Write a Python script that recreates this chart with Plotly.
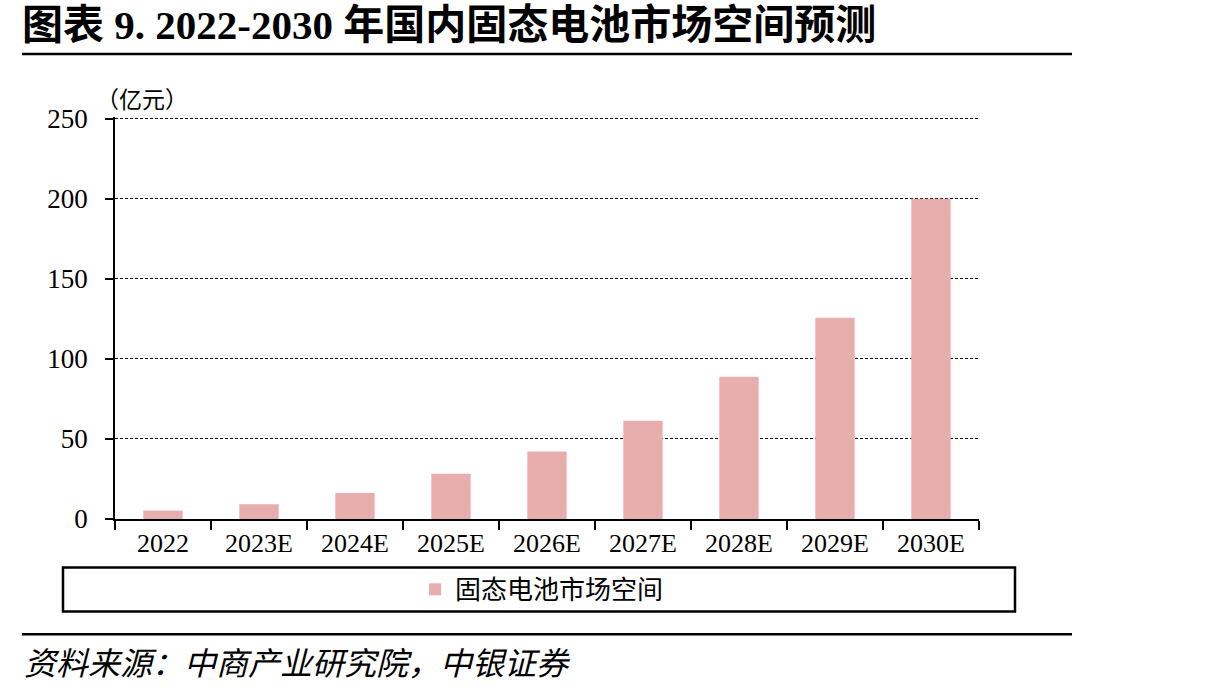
import plotly.graph_objects as go

categories = ["2022", "2023E", "2024E", "2025E", "2026E", "2027E", "2028E", "2029E", "2030E"]
market_size = [5.3, 9.2, 16.3, 28.3, 42.2, 61.4, 88.8, 125.7, 200.0]
series_name = "固态电池市场空间"
y_ticks = [0, 50, 100, 150, 200, 250]
title_text = "图表 9. 2022-2030 年国内固态电池市场空间预测"
unit_text = "（亿元）"
source_text = "资料来源：中商产业研究院，中银证券"

W, H = 1211, 694
L, R, T, B = 115, 979, 117, 519.5
pw, ph = R - L, B - T


def px(x):
    return (x - L) / pw


def py(y):
    return (B - y) / ph


serif = "Liberation Serif, Times New Roman, Noto Sans CJK SC, serif"
cjk = "Noto Sans CJK SC, sans-serif"

fig = go.Figure()
fig.add_trace(go.Bar(
    x=categories, y=market_size, name=series_name,
    marker=dict(color="#E8AEAD", line=dict(width=0)),
    showlegend=True,
))

fig.update_layout(
    width=W, height=H,
    margin=dict(l=L, r=W - R, t=T, b=H - B, pad=0),
    paper_bgcolor="white", plot_bgcolor="white",
    bargap=0.59,
    showlegend=True,
    legend=dict(
        x=px(542), y=py(590), xanchor="center", yanchor="middle",
        orientation="h", font=dict(family=cjk, size=26, color="black"),
        bgcolor="rgba(0,0,0,0)", borderwidth=0, itemwidth=30,
    ),
    xaxis=dict(
        type="category", range=[-0.5, 8.5],
        showline=True, linecolor="black", linewidth=1.5,
        ticks="outside", tickson="boundaries", ticklen=9, tickcolor="black", tickwidth=1.5,
        tickfont=dict(family=serif, size=26, color="black"),
        showgrid=False, zeroline=False, fixedrange=True,
    ),
    yaxis=dict(
        range=[0, 251], tickvals=y_ticks,
        showline=True, linecolor="black", linewidth=1.5,
        ticks="outside", ticklen=8, tickcolor="black", tickwidth=1.5,
        tickfont=dict(family=serif, size=27, color="black"),
        ticklabelstandoff=12,
        showgrid=True, gridcolor="black", gridwidth=1, griddash="3px,2px",
        zeroline=False,
    ),
    shapes=[
        dict(type="line", xref="paper", yref="paper", x0=px(22), x1=px(1072), y0=py(54), y1=py(54),
             line=dict(color="black", width=2.5)),
        dict(type="line", xref="paper", yref="paper", x0=px(22), x1=px(1072), y0=py(635), y1=py(635),
             line=dict(color="black", width=2.5)),
        dict(type="rect", xref="paper", yref="paper", x0=px(63), x1=px(1015), y0=py(612), y1=py(568),
             line=dict(color="black", width=2.5), fillcolor="rgba(0,0,0,0)"),
    ],
    annotations=[
        dict(text="<b>" + title_text + "</b>", xref="paper", yref="paper", x=px(20), y=py(25),
             xanchor="left", yanchor="middle", showarrow=False,
             font=dict(family=serif, size=41, color="black")),
        dict(text=unit_text, xref="paper", yref="paper", x=px(94), y=py(98),
             xanchor="left", yanchor="middle", showarrow=False,
             font=dict(family=cjk, size=23, color="black")),
        dict(text="<i>" + source_text + "</i>", xref="paper", yref="paper", x=px(22), y=py(662),
             xanchor="left", yanchor="middle", showarrow=False,
             font=dict(family=cjk, size=32, color="black")),
    ],
)

fig.write_html("out.html")
